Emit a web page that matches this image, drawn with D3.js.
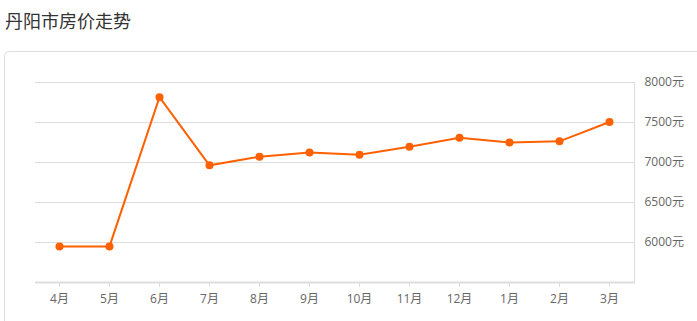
<!DOCTYPE html>
<html><head><meta charset="utf-8">
<script src="https://cdn.jsdelivr.net/npm/d3@7"></script>
<style>
html,body{margin:0;padding:0;background:#fff;overflow:hidden;}
svg{display:block;font-family:"Noto Sans CJK SC","Noto Sans",sans-serif;}
</style></head><body>
<svg id="c" width="697" height="321"></svg>
<script>
const title = "丹阳市房价走势";
const months = ["4月","5月","6月","7月","8月","9月","10月","11月","12月","1月","2月","3月"];
const prices = [5945,5945,7810,6958,7066,7120,7091,7191,7304,7245,7258,7500];
const yTicks = [6000,6500,7000,7500,8000];
const yUnit = "元";

const svg = d3.select("#c");
svg.append("text").attr("x",5).attr("y",28).attr("font-size",18).attr("fill","#333").text(title);
svg.append("rect").attr("x",4.5).attr("y",51.5).attr("width",720).attr("height",320).attr("rx",5)
  .attr("fill","none").attr("stroke","#ddd");

const x = d3.scaleBand().domain(months).range([34.5,634.5]);
const y = d3.scaleLinear().domain([5500,8000]).range([282,82]);

// grid
const yAxis = d3.axisRight(y).tickValues(yTicks).tickSize(-600).tickFormat(d=>d+yUnit);
const gy = svg.append("g").attr("transform","translate(634.5,0)").call(yAxis);
gy.select(".domain").remove();
gy.selectAll(".tick line").attr("stroke","#ddd").attr("shape-rendering","crispEdges");
gy.selectAll(".tick text").attr("x",10).attr("fill","#666").attr("font-size",12)
  .attr("font-family","'Open Sans','Noto Sans CJK SC',sans-serif");
// right vertical line
svg.append("line").attr("x1",634.5).attr("x2",634.5).attr("y1",y(8000)).attr("y2",y(5500))
  .attr("stroke","#ddd");

// x axis
const xAxis = d3.axisBottom(x).tickSize(5).tickSizeOuter(0);
const gx = svg.append("g").attr("transform",`translate(0,${y(5500)})`).call(xAxis);
gx.select(".domain").attr("stroke","#ddd").attr("stroke-width",2);
gx.selectAll(".tick line").attr("stroke","#ddd");
gx.selectAll(".tick text").attr("fill","#666").attr("font-size",12).attr("dy","1.05em")
  .attr("font-family","'Open Sans','Noto Sans CJK SC',sans-serif");

const cx = d=>x(d)+x.bandwidth()/2;
const data = months.map((m,i)=>({m,v:prices[i]}));
svg.append("path").datum(data)
  .attr("d",d3.line().x(d=>cx(d.m)).y(d=>y(d.v)))
  .attr("fill","none").attr("stroke","#ff6000").attr("stroke-width",2);
svg.selectAll("circle.pt").data(data).join("circle").attr("class","pt")
  .attr("cx",d=>cx(d.m)).attr("cy",d=>y(d.v)).attr("r",4).attr("fill","#ff6000");
</script></body></html>
